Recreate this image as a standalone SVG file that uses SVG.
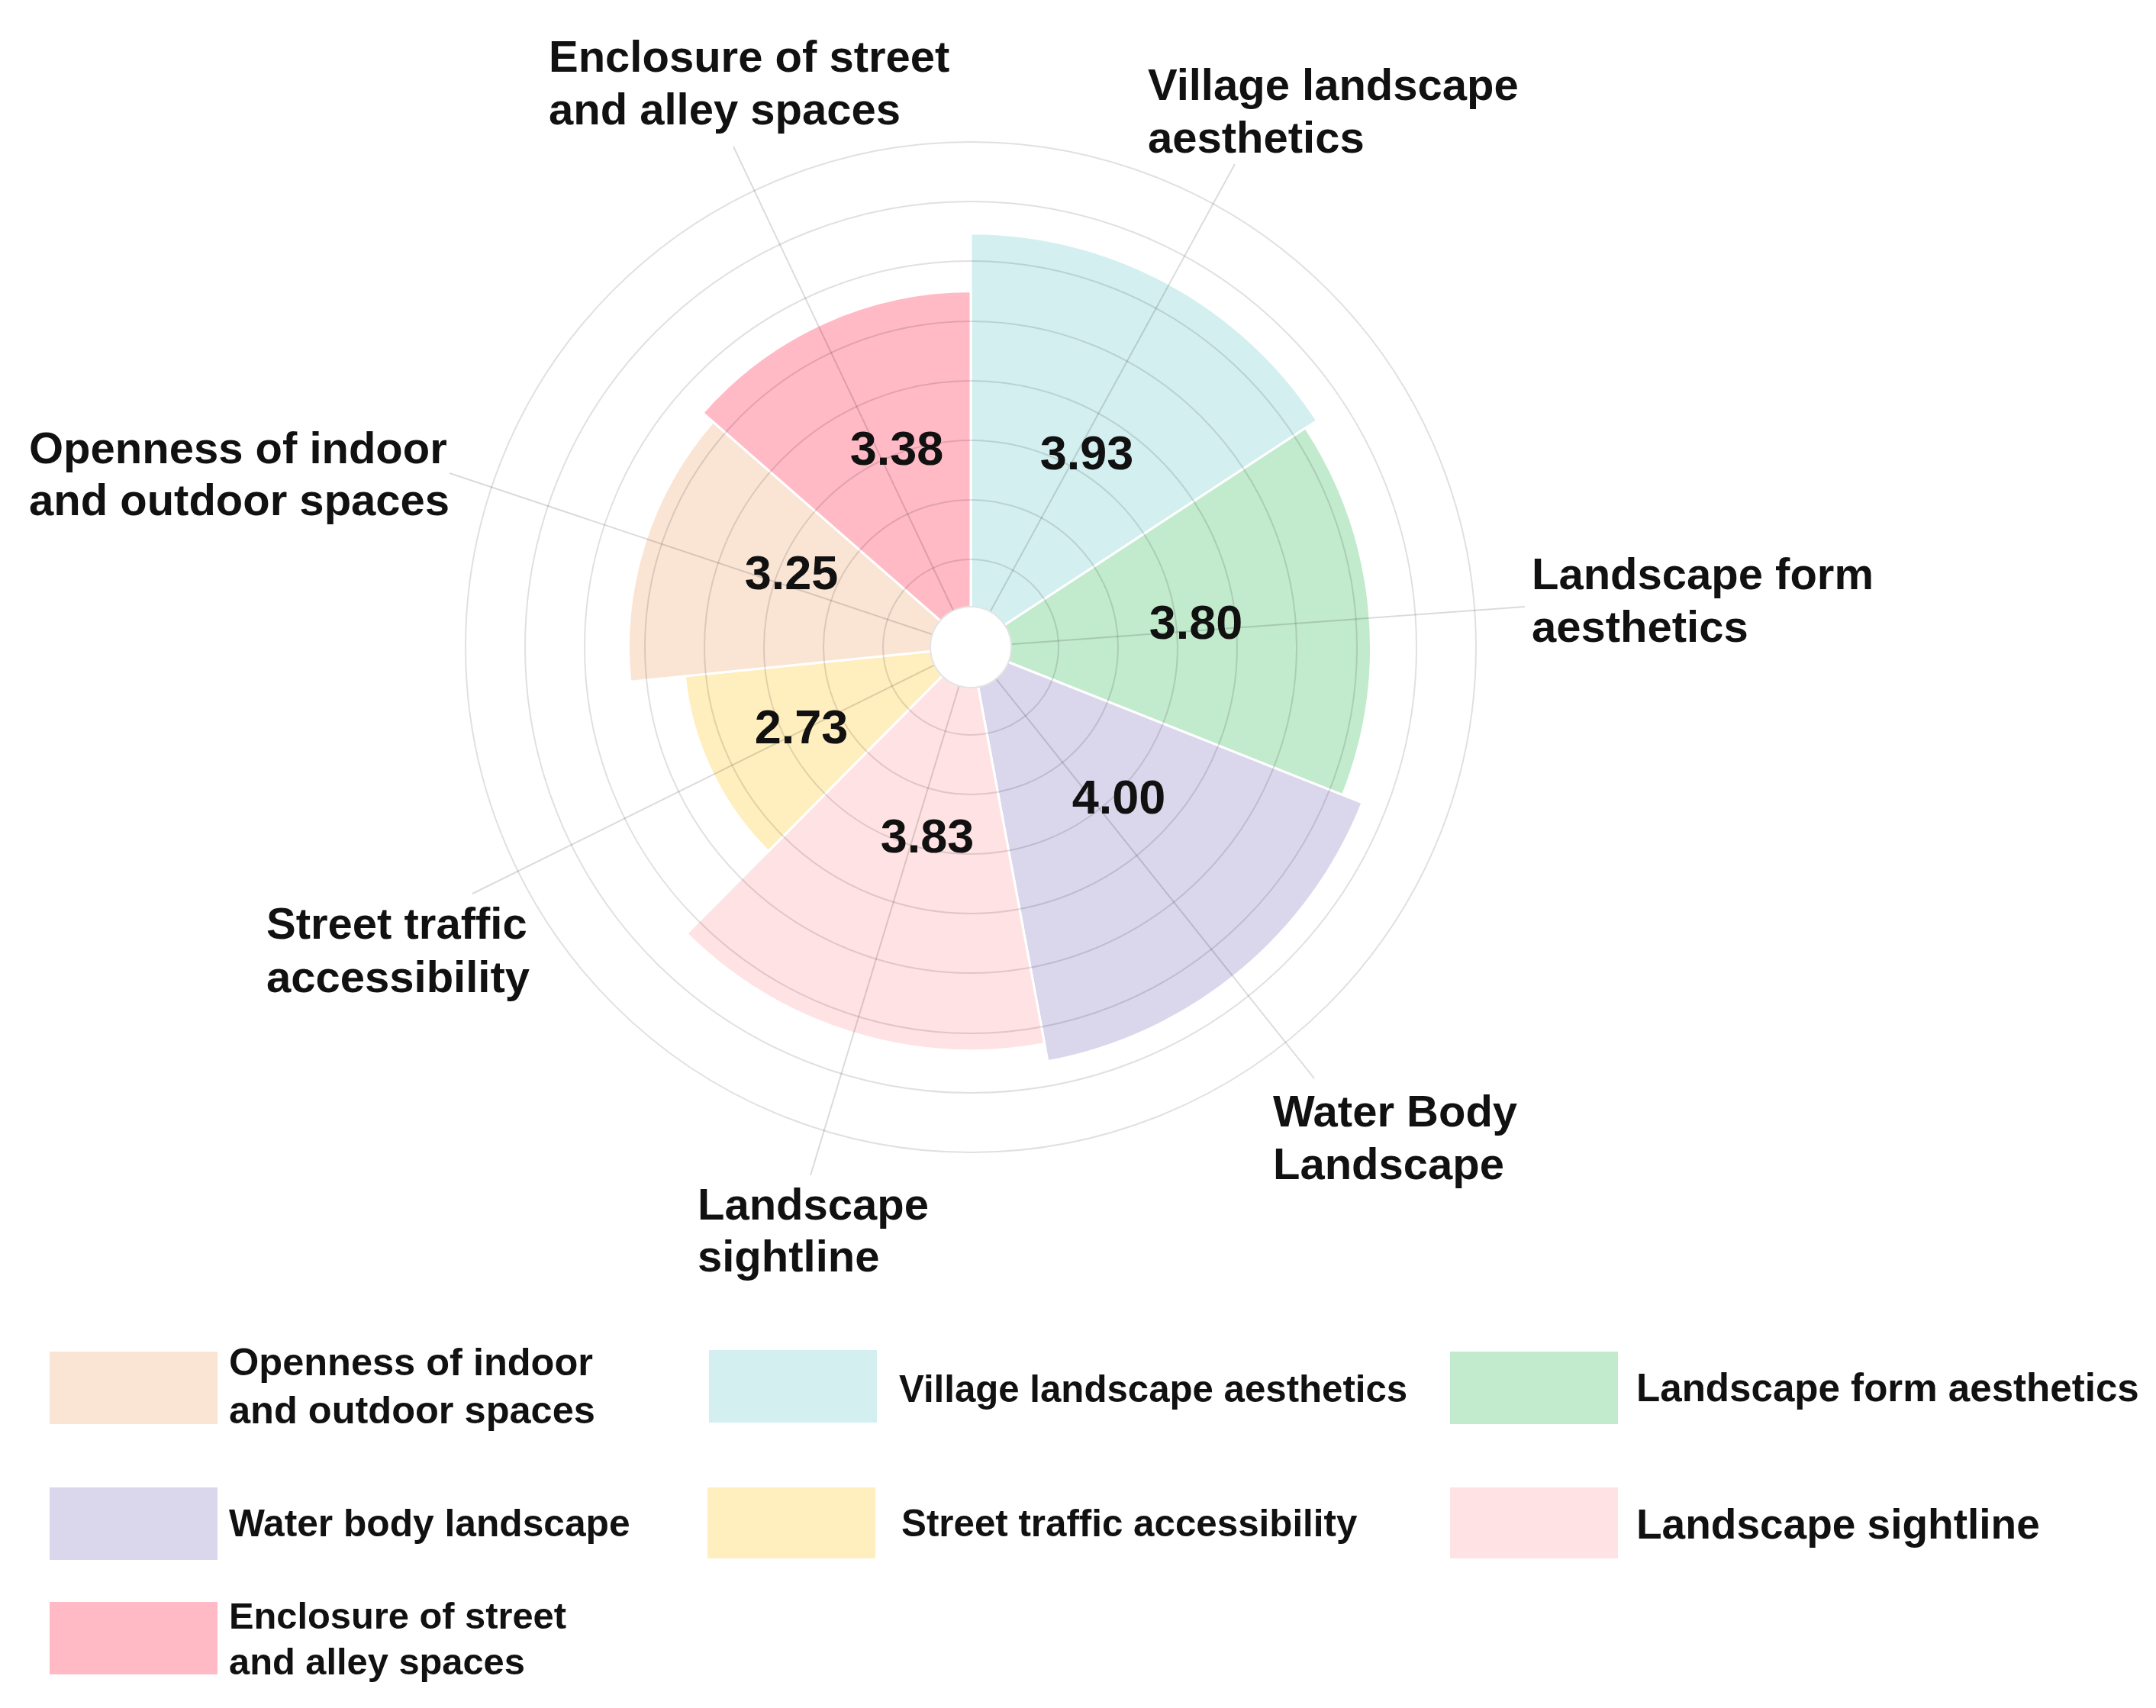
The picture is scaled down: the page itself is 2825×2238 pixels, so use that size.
<svg xmlns="http://www.w3.org/2000/svg" width="2825" height="2238" viewBox="0 0 2825 2238">
<style>
  .grid { fill: none; stroke: #000; stroke-opacity: 0.12; stroke-width: 2; }
  .spoke { stroke: #000; stroke-opacity: 0.14; stroke-width: 2; fill: none; }
  .sector { stroke: #fff; stroke-width: 3; }
  .lbl { font-family: "Liberation Sans", Arial, sans-serif; font-weight: bold; font-size: 58px; fill: #111; }
  .val { font-family: "Liberation Sans", Arial, sans-serif; font-weight: bold; font-size: 63px; fill: #111; text-anchor: middle; }
  .leg { font-family: "Liberation Sans", Arial, sans-serif; font-weight: bold; fill: #111; }
</style>
<rect width="2825" height="2238" fill="#fff"/>

<g id="sectors">
  <g id="village"><path class="sector" fill="#D3EFF0" d="M1272,848 L1272,305.7 A542.3,542.3 0 0 1 1725.7,550.9 Z"/></g>
  <g id="landform"><path class="sector" fill="#C2EACC" d="M1272,848 L1710.7,560.7 A524.4,524.4 0 0 1 1759.4,1041.7 Z"/></g>
  <g id="water"><path class="sector" fill="#DAD6EC" d="M1272,848 L1785,1051.9 A552,552 0 0 1 1373,1390.7 Z"/></g>
  <g id="sightline"><path class="sector" fill="#FFE2E4" d="M1272,848 L1368.7,1367.6 A528.5,528.5 0 0 1 899.8,1223.2 Z"/></g>
  <g id="traffic"><path class="sector" fill="#FFEEBE" d="M1272,848 L1006.7,1115.4 A376.7,376.7 0 0 1 897.2,885.9 Z"/></g>
  <g id="openness"><path class="sector" fill="#FAE4D4" d="M1272,848 L825.8,893.2 A448.5,448.5 0 0 1 934.3,552.8 Z"/></g>
  <g id="enclosure"><path class="sector" fill="#FFBAC6" d="M1272,848 L920.8,541 A466.4,466.4 0 0 1 1272,381.6 Z"/></g>
</g>

<g id="grid">
  <circle class="grid" cx="1272" cy="848" r="115"/>
  <circle class="grid" cx="1272" cy="848" r="193"/>
  <circle class="grid" cx="1272" cy="848" r="271"/>
  <circle class="grid" cx="1272" cy="848" r="349"/>
  <circle class="grid" cx="1272" cy="848" r="427"/>
  <circle class="grid" cx="1272" cy="848" r="506"/>
  <circle class="grid" cx="1272" cy="848" r="584"/>
  <circle class="grid" cx="1272" cy="848" r="662"/>
</g>

<g id="connectors">
  <line class="spoke" x1="1272" y1="848" x2="1618" y2="215"/>
  <line class="spoke" x1="1272" y1="848" x2="1998" y2="795"/>
  <line class="spoke" x1="1272" y1="848" x2="1722" y2="1413"/>
  <line class="spoke" x1="1272" y1="848" x2="1062" y2="1540"/>
  <line class="spoke" x1="1272" y1="848" x2="619" y2="1171"/>
  <line class="spoke" x1="1272" y1="848" x2="589" y2="620"/>
  <line class="spoke" x1="1272" y1="848" x2="961" y2="192"/>
</g>

<g id="hole"><circle cx="1272" cy="848" r="53" fill="#fff" stroke="#e4e4e4" stroke-width="2"/></g>

<g id="values">
  <text class="val" x="1175" y="609">3.38</text>
  <text class="val" x="1424" y="615">3.93</text>
  <text class="val" x="1037" y="772">3.25</text>
  <text class="val" x="1567" y="837">3.80</text>
  <text class="val" x="1050" y="974">2.73</text>
  <text class="val" x="1466" y="1066">4.00</text>
  <text class="val" x="1215" y="1117">3.83</text>
</g>

<g id="labels">
  <g id="label-enclosure"><text class="lbl" x="719" y="94">Enclosure of street</text><text class="lbl" x="719" y="163">and alley spaces</text></g>
  <g id="label-village"><text class="lbl" x="1504" y="131">Village landscape</text><text class="lbl" x="1504" y="200">aesthetics</text></g>
  <g id="label-openness"><text class="lbl" x="38" y="607">Openness of indoor</text><text class="lbl" x="38" y="675">and outdoor spaces</text></g>
  <g id="label-landform"><text class="lbl" x="2007" y="772">Landscape form</text><text class="lbl" x="2007" y="841">aesthetics</text></g>
  <g id="label-traffic"><text class="lbl" x="349" y="1230">Street traffic</text><text class="lbl" x="349" y="1300">accessibility</text></g>
  <g id="label-water"><text class="lbl" x="1668" y="1476">Water Body</text><text class="lbl" x="1668" y="1545">Landscape</text></g>
  <g id="label-sightline"><text class="lbl" x="914" y="1598">Landscape</text><text class="lbl" x="914" y="1666">sightline</text></g>
</g>

<g id="legend">
  <g id="legend-openness"><rect x="65" y="1771" width="220" height="95" fill="#FAE4D4"/><text class="leg" x="300" y="1802" font-size="50.5">Openness of indoor</text><text class="leg" x="300" y="1865" font-size="50.5">and outdoor spaces</text></g>
  <g id="legend-village"><rect x="929" y="1769" width="220" height="95" fill="#D3EFF0"/><text class="leg" x="1178" y="1837" font-size="49.2">Village landscape aesthetics</text></g>
  <g id="legend-landform"><rect x="1900" y="1771" width="220" height="95" fill="#C2EACC"/><text class="leg" x="2144" y="1836" font-size="51.1">Landscape form aesthetics</text></g>
  <g id="legend-water"><rect x="65" y="1949" width="220" height="95" fill="#DAD6EC"/><text class="leg" x="300" y="2013" font-size="49.7">Water body landscape</text></g>
  <g id="legend-traffic"><rect x="927" y="1949" width="220" height="93" fill="#FFEEBE"/><text class="leg" x="1181" y="2013" font-size="49.3">Street traffic accessibility</text></g>
  <g id="legend-sightline"><rect x="1900" y="1949" width="220" height="93" fill="#FFE2E4"/><text class="leg" x="2144" y="2016" font-size="55">Landscape sightline</text></g>
  <g id="legend-enclosure"><rect x="65" y="2099" width="220" height="95" fill="#FFBAC6"/><text class="leg" x="300" y="2134" font-size="48.8">Enclosure of street</text><text class="leg" x="300" y="2194" font-size="48.8">and alley spaces</text></g>
</g>
</svg>
